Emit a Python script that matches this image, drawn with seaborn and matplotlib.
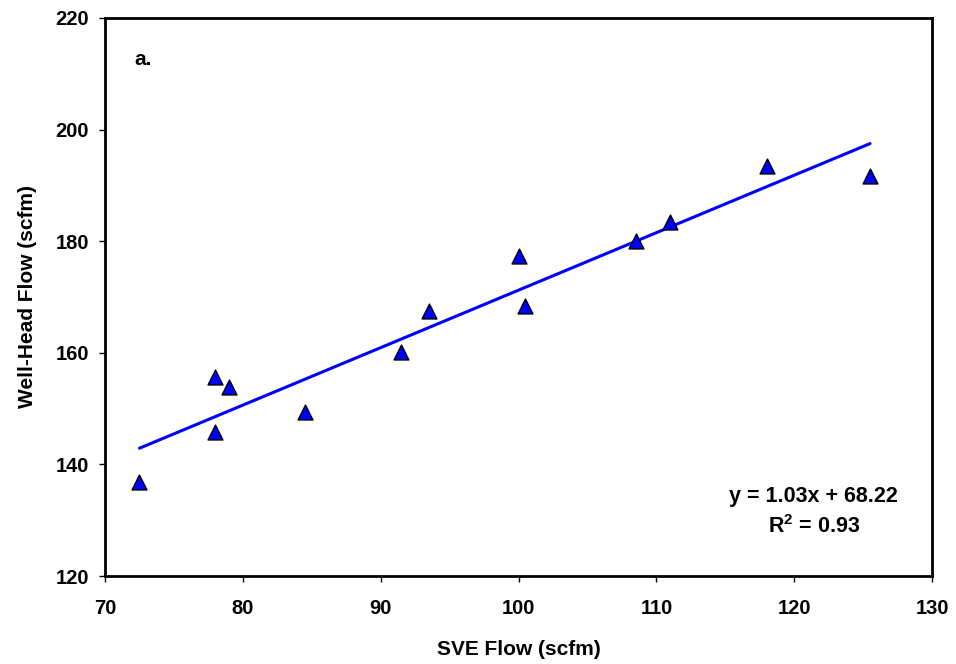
import numpy as np
import pandas as pd
import matplotlib
matplotlib.use("Agg")
import matplotlib.pyplot as plt
import seaborn as sns

sve_flow = [72.5, 78.0, 79.0, 78.0, 84.5, 91.5, 93.5, 100.0, 100.5, 108.5, 111.0, 118.0, 125.5]
wellhead_flow = [136.8, 155.7, 153.9, 145.8, 149.4, 160.1, 167.4, 177.3, 168.3, 180.0, 183.5, 193.5, 191.6]
slope = 1.03
intercept = 68.22
r2 = 0.93

x_ticks = [70, 80, 90, 100, 110, 120, 130]
y_ticks = [120, 140, 160, 180, 200, 220]

sns.set_style("white")
plt.rcParams['font.family'] = ['Liberation Sans', 'DejaVu Sans']
plt.rcParams['font.weight'] = 'bold'
plt.rcParams['mathtext.fontset'] = 'custom'
plt.rcParams['mathtext.bf'] = 'Liberation Sans:bold'
plt.rcParams['mathtext.rm'] = 'Liberation Sans:bold'

df = pd.DataFrame({"x": sve_flow, "y": wellhead_flow})
fit_x = np.array([min(sve_flow), max(sve_flow)])
fit = pd.DataFrame({"x": fit_x, "y": slope * fit_x + intercept})

fig = plt.figure(figsize=(9.56, 6.64), dpi=100)
ax = fig.add_axes([0.1098, 0.1325, 0.8652, 0.8405])

sns.lineplot(data=fit, x="x", y="y", ax=ax, color="#0000ff", linewidth=2.2, zorder=2)
sns.scatterplot(data=df, x="x", y="y", ax=ax, marker="^", s=115, color="#0000ff",
                edgecolor="black", linewidth=1.0, zorder=3)

ax.set_xlim(70, 130)
ax.set_ylim(120, 220)
ax.set_xticks(x_ticks)
ax.set_yticks(y_ticks)
ax.tick_params(axis="both", direction="out", length=4.5, width=1, labelsize=14.5,
               bottom=True, left=True, colors="black")
ax.tick_params(axis="x", pad=12)
ax.tick_params(axis="y", pad=7)
for lab in ax.get_xticklabels() + ax.get_yticklabels():
    lab.set_fontweight("bold")

for sp in ax.spines.values():
    sp.set_linewidth(2.0)
    sp.set_color("black")

ax.set_xlabel("SVE Flow (scfm)", fontsize=15, fontweight="bold", labelpad=16, color="black")
ax.set_ylabel("Well-Head Flow (scfm)", fontsize=15, fontweight="bold", labelpad=13, color="black")

ax.text(0.036, 0.925, "a.", transform=ax.transAxes, fontsize=15, fontweight="bold",
        ha="left", va="center", color="black")
ax.text(0.857, 0.142, f"y = {slope:.2f}x + {intercept:.2f}", transform=ax.transAxes,
        fontsize=15.5, fontweight="bold", ha="center", va="center", color="black")
ax.text(0.857, 0.088, f"R$^{{2}}$ = {r2:.2f}", transform=ax.transAxes,
        fontsize=15.5, fontweight="bold", ha="center", va="center", color="black")

fig.savefig("out.png", dpi=100)
